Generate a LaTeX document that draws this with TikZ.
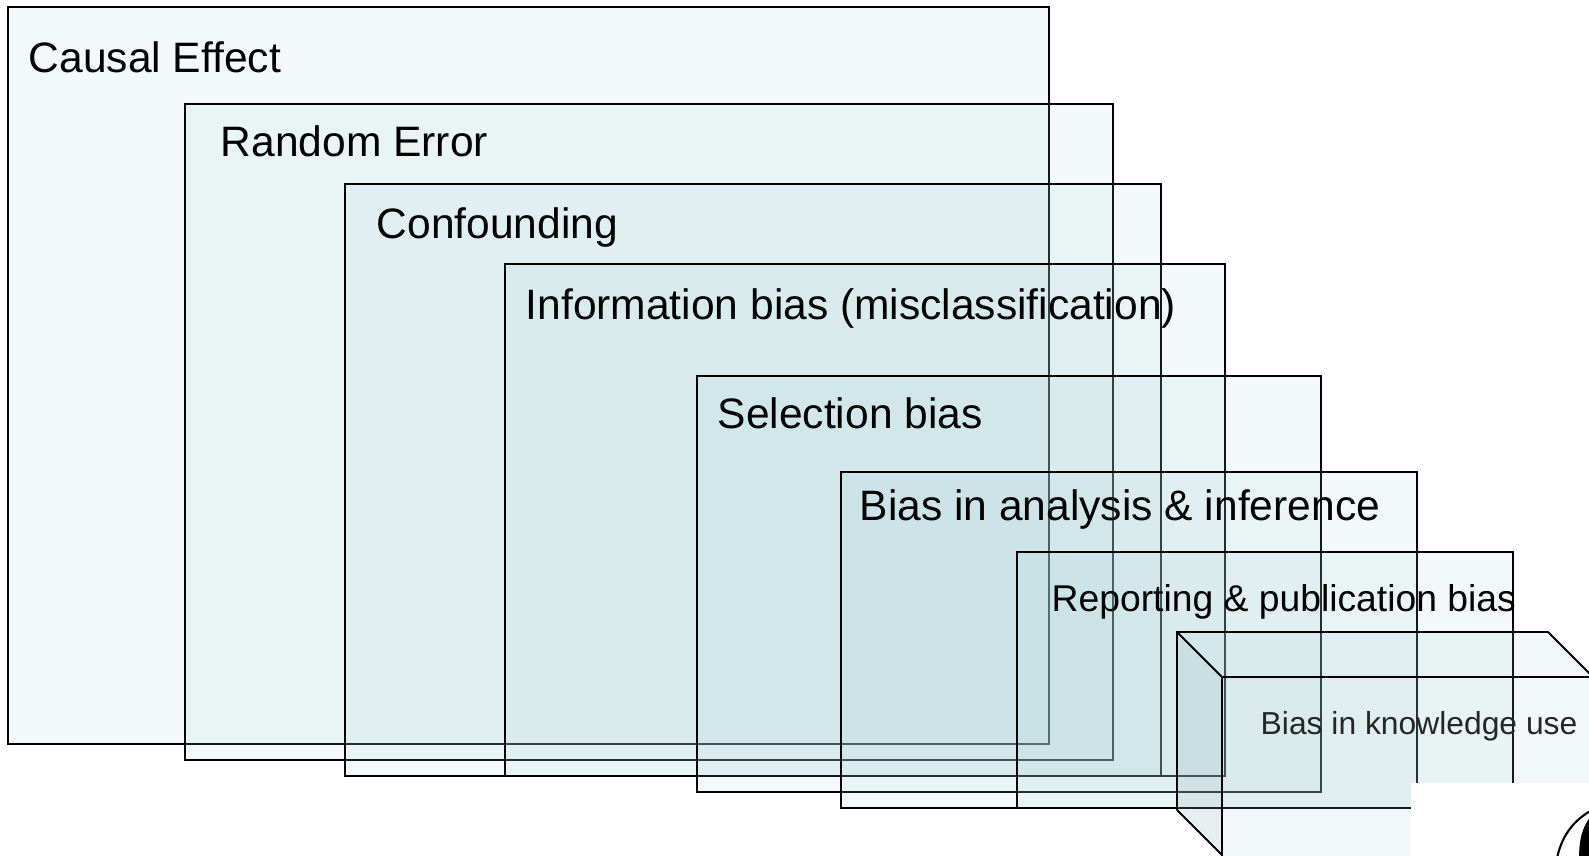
\documentclass[tikz,border=0pt]{standalone}
\usepackage{fontspec}
\setmainfont{Liberation Sans}
\definecolor{boxfill}{RGB}{160,205,210}
\definecolor{sidefill}{RGB}{140,175,180}

\begin{document}
\begin{tikzpicture}
    [x=0.01cm,y=-0.01cm,
    layer/.style={draw=black,line width=0.55pt,fill=boxfill,fill opacity=0.12},
    face/.style={fill=boxfill,fill opacity=0.14},
    side/.style={fill=sidefill,fill opacity=0.2},
    edge/.style={draw=black,line width=0.55pt},
    title/.style={anchor=base west,inner sep=0pt,text=black,
      font=\fontsize{12.1pt}{14pt}\selectfont}]

    \useasboundingbox (0,0) rectangle (1589,855);
    \clip (0,0) rectangle (1589,855);

    \draw[layer] (8,7) rectangle (1049,744);
    \node[title] (causal) at (28,73) {Causal Effect};

    \draw[layer] (185,104) rectangle (1113,760);
    \node[title] (random) at (220,157) {Random Error};

    \draw[layer] (345,184) rectangle (1161,776);
    \node[title] (confounding) at (376,239) {Confounding};

    \draw[layer] (505,264) rectangle (1225,776);
    \node[title] (information) at (525,319) {Information bias (misclassification)};

    \draw[layer] (697,376) rectangle (1321,792);
    \node[title] (selection) at (717,428) {Selection bias};

    \draw[layer] (841,472) rectangle (1417,808);
    \node[title] (analysis) at (859,520) {Bias in analysis \& inference};

    \draw[layer] (1017,552) rectangle (1513,808);
    \node[title,font=\fontsize{10.6pt}{12pt}\selectfont] (reporting) at (1051,611)
      {Reporting \& publication bias};

    % box in front
    \fill[side] (1177,632) -- (1222,677) -- (1222,855) -- (1177,810) -- cycle;
    \fill[face] (1177,632) -- (1548,632) -- (1593,677) -- (1222,677) -- cycle;
    \fill[face] (1222,677) rectangle (1600,900);
    \draw[edge] (1177,810) -- (1177,632) -- (1548,632) -- (1593,677);
    \draw[edge] (1177,632) -- (1222,677) -- (1600,677);
    \draw[edge] (1222,677) -- (1222,900);
    \draw[edge] (1177,810) -- (1222,855);
    \node[title,text=black!85,font=\fontsize{9.05pt}{10pt}\selectfont] (knowledge)
      at (1260,734) {Bias in knowledge use};

    % picture corner
    \fill[white] (1411,783) rectangle (1600,900);
    \draw[line width=0.6pt] (1557,858) .. controls (1562,835) and (1574,820) .. (1592,810);
    \fill (1579,858) .. controls (1579,838) and (1583,825) .. (1592,815) -- (1592,858) -- cycle;

  \end{tikzpicture}
\end{document}
